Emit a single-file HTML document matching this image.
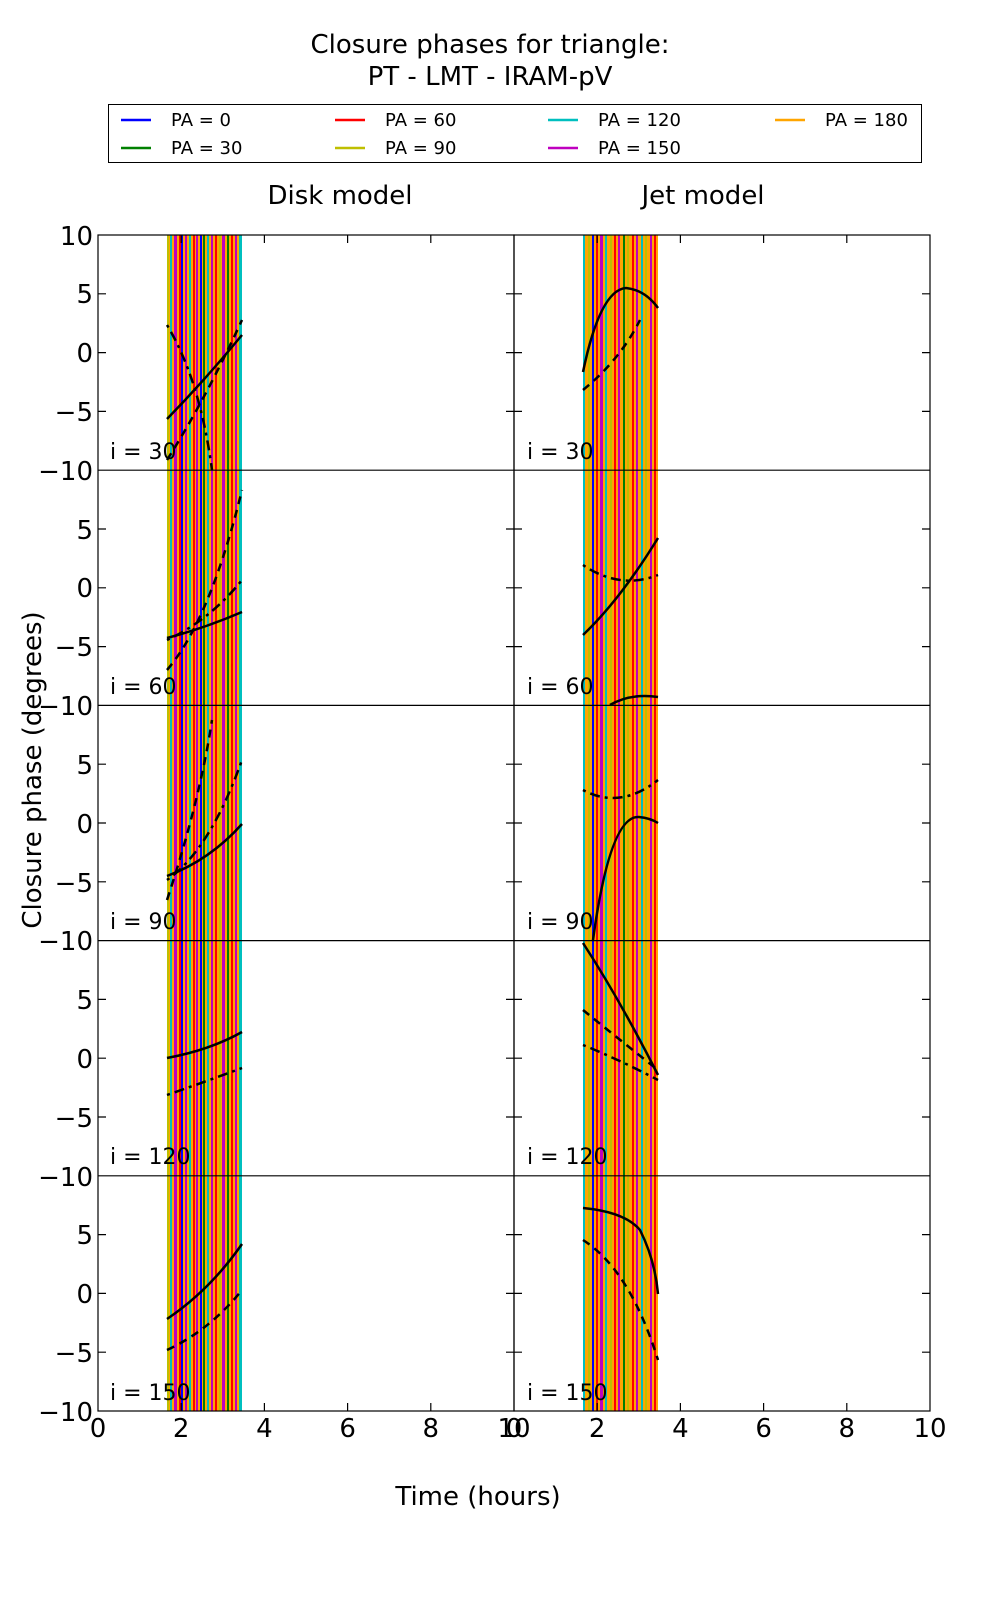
<!DOCTYPE html>
<html><head><meta charset="utf-8"><style>
html,body{margin:0;padding:0;background:#fff}
svg{display:block;font-family:"DejaVu Sans","Liberation Sans",sans-serif}
</style></head><body>
<svg width="1000" height="1600" viewBox="0 0 1000 1600" xmlns="http://www.w3.org/2000/svg">
<defs>
<pattern id="st" patternUnits="userSpaceOnUse" x="167" y="0" width="75" height="10">
<rect width="75" height="10" fill="#ffa500"/>
<rect x="0" width="2" height="10" fill="#bfbf00"/>
<rect x="3" width="2" height="10" fill="#00bfbf"/>
<rect x="7" width="3" height="10" fill="#bf00bf"/>
<rect x="12" width="2" height="10" fill="#ff0000"/>
<rect x="14" width="2" height="10" fill="#0000ff"/>
<rect x="18" width="2" height="10" fill="#bf00bf"/>
<rect x="22" width="2" height="10" fill="#00bfbf"/>
<rect x="26" width="2" height="10" fill="#ff0000"/>
<rect x="29" width="2" height="10" fill="#bf00bf"/>
<rect x="33" width="2" height="10" fill="#0000ff"/>
<rect x="36" width="2" height="10" fill="#008000"/>
<rect x="40" width="2" height="10" fill="#00bfbf"/>
<rect x="44" width="2" height="10" fill="#bf00bf"/>
<rect x="48" width="2" height="10" fill="#ff0000"/>
<rect x="52" width="2" height="10" fill="#bfbf00"/>
<rect x="55" width="3" height="10" fill="#bf00bf"/>
<rect x="60" width="2" height="10" fill="#008000"/>
<rect x="64" width="2" height="10" fill="#ff0000"/>
<rect x="68" width="2" height="10" fill="#bf00bf"/>
<rect x="72" width="3" height="10" fill="#00bfbf"/>
</pattern>
<pattern id="st2" patternUnits="userSpaceOnUse" x="583" y="0" width="75" height="10">
<rect width="75" height="10" fill="#ffa500"/>
<rect x="0" width="2" height="10" fill="#00bfbf"/>
<rect x="5" width="2" height="10" fill="#bfbf00"/>
<rect x="9" width="2" height="10" fill="#0000ff"/>
<rect x="13" width="2" height="10" fill="#ff0000"/>
<rect x="17" width="3" height="10" fill="#bf00bf"/>
<rect x="22" width="2" height="10" fill="#00bfbf"/>
<rect x="27" width="2" height="10" fill="#bfbf00"/>
<rect x="31" width="2" height="10" fill="#ff0000"/>
<rect x="35" width="2" height="10" fill="#bf00bf"/>
<rect x="40" width="2" height="10" fill="#008000"/>
<rect x="44" width="2" height="10" fill="#bfbf00"/>
<rect x="49" width="2" height="10" fill="#ff0000"/>
<rect x="53" width="2" height="10" fill="#bf00bf"/>
<rect x="58" width="2" height="10" fill="#00bfbf"/>
<rect x="62" width="2" height="10" fill="#bfbf00"/>
<rect x="67" width="2" height="10" fill="#bf00bf"/>
<rect x="71" width="2" height="10" fill="#ff0000"/>
</pattern>
</defs>

<text x="490" y="53" font-size="26" text-anchor="middle">Closure phases for triangle:</text>
<text x="490" y="85" font-size="26" text-anchor="middle">PT - LMT - IRAM-pV</text>

<rect x="108.5" y="104.5" width="813" height="58" fill="#fff" stroke="#000" stroke-width="1"/>
<g font-size="18" stroke-width="2.5">
<line x1="121" y1="120" x2="151" y2="120" stroke="#0000ff"/><text x="171" y="126">PA = 0</text>
<line x1="121" y1="148" x2="151" y2="148" stroke="#008000"/><text x="171" y="154">PA = 30</text>
<line x1="335" y1="120" x2="365" y2="120" stroke="#ff0000"/><text x="385" y="126">PA = 60</text>
<line x1="335" y1="148" x2="365" y2="148" stroke="#bfbf00"/><text x="385" y="154">PA = 90</text>
<line x1="548" y1="120" x2="578" y2="120" stroke="#00bfbf"/><text x="598" y="126">PA = 120</text>
<line x1="548" y1="148" x2="578" y2="148" stroke="#bf00bf"/><text x="598" y="154">PA = 150</text>
<line x1="775" y1="120" x2="805" y2="120" stroke="#ffa500"/><text x="825" y="126">PA = 180</text>
</g>

<text x="340" y="204" font-size="26" text-anchor="middle">Disk model</text>
<text x="703" y="204" font-size="26" text-anchor="middle">Jet model</text>

<!-- bands -->
<rect x="167" y="235" width="75" height="1176" fill="url(#st)"/>
<rect x="583" y="235" width="75" height="1176" fill="url(#st2)"/>

<!-- curves -->
<g fill="none" stroke="#000" stroke-width="2.5">
<path d="M167 419 Q205 380 242 335"/>
<path d="M583 372 Q600 290 626 288 Q645 290 658 308"/>
<path d="M167 638 Q205 628 242 612"/>
<path d="M583 635 Q620 600 658 538"/>
<path d="M610 705 Q630 693 658 697"/>
<path d="M167 876 Q210 860 242 824"/>
<path d="M593 940 Q610 815 639 817 Q650 818 658 823"/>
<path d="M167 1058 Q210 1050 242 1032"/>
<path d="M583 943 Q620 1000 658 1075"/>
<path d="M167 1319 Q210 1290 242 1244"/>
<path d="M583 1208 Q625 1212 640 1230 Q655 1260 658 1294"/>
</g>
<g fill="none" stroke="#000" stroke-width="2.5" stroke-dasharray="8,6">
<path d="M167 460 Q205 400 242 320"/>
<path d="M583 390 Q620 360 640 320"/>
<path d="M167 670 Q210 620 242 490"/>
<path d="M167 900 Q200 800 212 720"/>
<path d="M583 1010 Q620 1040 658 1070"/>
<path d="M167 1350 Q210 1330 242 1290"/>
<path d="M583 1240 Q630 1270 658 1360"/>
</g>
<g fill="none" stroke="#000" stroke-width="2.5" stroke-dasharray="3,5,10,5">
<path d="M167 325 Q200 380 212 470"/>
<path d="M167 640 Q210 620 242 580"/>
<path d="M583 565 Q620 590 658 575"/>
<path d="M167 880 Q210 850 242 760"/>
<path d="M583 790 Q620 810 658 780"/>
<path d="M167 1095 Q210 1080 242 1068"/>
<path d="M583 1045 Q620 1060 658 1080"/>
</g>

<!-- panel frames and ticks -->
<g fill="none" stroke="#000" stroke-width="1.2">
<rect x="98" y="235" width="416" height="1176"/>
<rect x="514" y="235" width="416" height="1176"/>
<path d="M98 470.2H930M98 705.4H930M98 940.6H930M98 1175.8H930"/>
<path d="M181.2 1411v-8M264.4 1411v-8M347.6 1411v-8M430.8 1411v-8M597.2 1411v-8M680.4 1411v-8M763.6 1411v-8M846.8 1411v-8
M181.2 235v8M264.4 235v8M347.6 235v8M430.8 235v8M597.2 235v8M680.4 235v8M763.6 235v8M846.8 235v8"/>
<path d="M98 293.8h8M98 352.6h8M98 411.4h8M98 529h8M98 587.8h8M98 646.6h8M98 764.2h8M98 823h8M98 881.8h8M98 999.4h8M98 1058.2h8M98 1117h8M98 1234.6h8M98 1293.4h8M98 1352.2h8
M930 293.8h-8M930 352.6h-8M930 411.4h-8M930 529h-8M930 587.8h-8M930 646.6h-8M930 764.2h-8M930 823h-8M930 881.8h-8M930 999.4h-8M930 1058.2h-8M930 1117h-8M930 1234.6h-8M930 1293.4h-8M930 1352.2h-8
M514 293.8h8M514 352.6h8M514 411.4h8M514 529h8M514 587.8h8M514 646.6h8M514 764.2h8M514 823h8M514 881.8h8M514 999.4h8M514 1058.2h8M514 1117h8M514 1234.6h8M514 1293.4h8M514 1352.2h8
M514 293.8h-8M514 352.6h-8M514 411.4h-8M514 529h-8M514 587.8h-8M514 646.6h-8M514 764.2h-8M514 823h-8M514 881.8h-8M514 999.4h-8M514 1058.2h-8M514 1117h-8M514 1234.6h-8M514 1293.4h-8M514 1352.2h-8"/>
</g>

<g font-size="26" text-anchor="end">
<text x="93" y="245">10</text><text x="93" y="303">5</text><text x="93" y="362">0</text><text x="93" y="421">−5</text><text x="93" y="480">−10</text>
<text x="93" y="539">5</text><text x="93" y="597">0</text><text x="93" y="656">−5</text><text x="93" y="715">−10</text>
<text x="93" y="774">5</text><text x="93" y="833">0</text><text x="93" y="892">−5</text><text x="93" y="950">−10</text>
<text x="93" y="1009">5</text><text x="93" y="1068">0</text><text x="93" y="1127">−5</text><text x="93" y="1186">−10</text>
<text x="93" y="1244">5</text><text x="93" y="1303">0</text><text x="93" y="1362">−5</text><text x="93" y="1421">−10</text>
</g>
<g font-size="26" text-anchor="middle">
<text x="98" y="1437">0</text><text x="181.2" y="1437">2</text><text x="264.4" y="1437">4</text><text x="347.6" y="1437">6</text><text x="430.8" y="1437">8</text><text x="514" y="1437">10</text>
<text x="514" y="1437">0</text><text x="597.2" y="1437">2</text><text x="680.4" y="1437">4</text><text x="763.6" y="1437">6</text><text x="846.8" y="1437">8</text><text x="930" y="1437">10</text>
</g>
<g font-size="22">
<text x="110" y="459">i = 30</text><text x="527" y="459">i = 30</text>
<text x="110" y="694">i = 60</text><text x="527" y="694">i = 60</text>
<text x="110" y="929">i = 90</text><text x="527" y="929">i = 90</text>
<text x="110" y="1164">i = 120</text><text x="527" y="1164">i = 120</text>
<text x="110" y="1400">i = 150</text><text x="527" y="1400">i = 150</text>
</g>
<text x="478" y="1505" font-size="26" text-anchor="middle">Time (hours)</text>
<text transform="translate(41,770) rotate(-90)" font-size="26" text-anchor="middle">Closure phase (degrees)</text>
</svg>
</body></html>
